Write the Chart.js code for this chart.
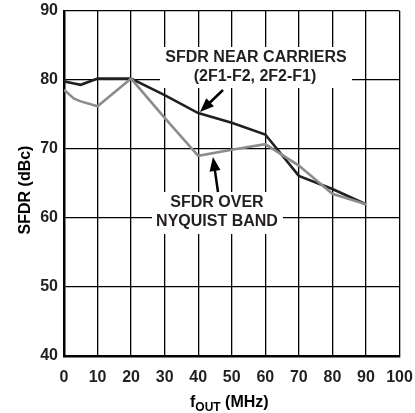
<!DOCTYPE html>
<html>
<head>
<meta charset="utf-8">
<script src="https://cdn.jsdelivr.net/npm/chart.js@4"></script>
<style>
  html, body { margin: 0; padding: 0; background: #fff; }
  #c { display: block; }
</style>
</head>
<body>
<canvas id="c" width="415" height="413"></canvas>
<script>
// values
const fOut = [0, 3, 5, 10, 20, 30, 40, 50, 60, 70, 80, 90];
const nearCarriers = [79.8, 79.5, 79.3, 80.2, 80.2, 77.8, 75.2, 73.8, 72.1, 66.1, 64.2, 62];
const overNyquist = [78.6, 77.3, 76.9, 76.2, 80.2, 74.5, 69.0, 69.9, 70.7, 67.6, 63.5, 62];
const xTicks = [0, 10, 20, 30, 40, 50, 60, 70, 80, 90, 100];
const yTicks = [40, 50, 60, 70, 80, 90];

const FONT = '"Liberation Sans", Arial, sans-serif';

function pts(xs, ys) {
    return xs.map((x, i) => ({x: x, y: ys[i]}));
}

function arrow(ctx, x1, y1, x2, y2) {
    const a = Math.atan2(y2 - y1, x2 - x1);
    const hl = 14, hw = 5.5;
    ctx.beginPath();
    ctx.moveTo(x1, y1);
    ctx.lineTo(x2 - Math.cos(a) * hl * 0.8, y2 - Math.sin(a) * hl * 0.8);
    ctx.lineWidth = 2.5;
    ctx.strokeStyle = '#000';
    ctx.stroke();
    ctx.beginPath();
    ctx.moveTo(x2, y2);
    ctx.lineTo(x2 - Math.cos(a) * hl - Math.sin(a) * hw, y2 - Math.sin(a) * hl + Math.cos(a) * hw);
    ctx.lineTo(x2 - Math.cos(a) * hl + Math.sin(a) * hw, y2 - Math.sin(a) * hl - Math.cos(a) * hw);
    ctx.closePath();
    ctx.fillStyle = '#000';
    ctx.fill();
}

const labelsPlugin = {
    id: 'labels',
    beforeDatasetsDraw(chart) {
        const ctx = chart.ctx;
        ctx.save();
        ctx.fillStyle = '#fff';
        ctx.fillRect(160, 47, 192, 41);
        ctx.fillRect(152, 192, 131, 42);
        ctx.restore();
    },
    afterDraw(chart) {
        const ctx = chart.ctx;
        ctx.save();
        ctx.fillStyle = '#231f20';
        ctx.font = 'bold 16px ' + FONT;
        ctx.textAlign = 'center';
        ctx.textBaseline = 'middle';
        ctx.fillText('SFDR NEAR CARRIERS', 256, 58);
        ctx.fillText('(2F1-F2, 2F2-F1)', 255, 77);
        ctx.fillText('SFDR OVER', 217, 203);
        ctx.fillText('NYQUIST BAND', 217, 222);
        arrow(ctx, 223, 90, 200, 112);
        arrow(ctx, 218, 192, 213, 157);

        // x axis title with subscript
        ctx.textAlign = 'left';
        ctx.textBaseline = 'alphabetic';
        ctx.font = 'bold 16px ' + FONT;
        const wf = ctx.measureText('f').width;
        ctx.font = 'bold 12px ' + FONT;
        const ws = ctx.measureText('OUT').width;
        ctx.font = 'bold 16px ' + FONT;
        let x0 = 190;
        ctx.fillText('f', x0, 407);
        ctx.font = 'bold 12px ' + FONT;
        ctx.fillText('OUT', x0 + wf, 411);
        ctx.font = 'bold 16px ' + FONT;
        ctx.fillText(' (MHz)', x0 + wf + ws, 407);

        // y axis title
        ctx.translate(26, 190);
        ctx.rotate(-Math.PI / 2);
        ctx.textAlign = 'center';
        ctx.textBaseline = 'middle';
        ctx.fillText('SFDR (dBc)', 0, 0);
        ctx.restore();
    }
};

const chart = new Chart(document.getElementById('c'), {
    type: 'line',
    data: {
        datasets: [
            {
                label: 'SFDR over Nyquist band',
                data: pts(fOut, overNyquist),
                borderColor: '#8c8c8c',
                borderWidth: 2.6,
                pointRadius: 0,
                tension: 0
            },
            {
                label: 'SFDR near carriers',
                data: pts(fOut, nearCarriers),
                borderColor: '#231f20',
                borderWidth: 2.6,
                pointRadius: 0,
                tension: 0
            }
        ]
    },
    options: {
        responsive: false,
        animation: false,
        devicePixelRatio: 1,
        layout: { padding: { top: 11, right: 15.5, left: 0, bottom: 0 } },
        plugins: { legend: { display: false }, tooltip: { enabled: false } },
        scales: {
            x: {
                type: 'linear',
                min: 0, max: 100,
                afterBuildTicks: (s) => { s.ticks = xTicks.map(v => ({value: v})); },
                afterFit: (s) => { s.height = 57; s.paddingLeft = 0; s.paddingRight = 0; },
                grid: { color: '#000', lineWidth: 1.3, drawTicks: false },
                border: { color: '#000', width: 2.5 },
                ticks: { color: '#231f20', padding: 12, maxRotation: 0, font: { family: FONT, size: 16, weight: 'bold' } }
            },
            y: {
                min: 40, max: 90,
                afterBuildTicks: (s) => { s.ticks = yTicks.map(v => ({value: v})); },
                afterFit: (s) => { s.width = 64; s.paddingTop = 0; s.paddingBottom = 0; },
                grid: { color: '#000', lineWidth: 1.3, drawTicks: false },
                border: { color: '#000', width: 2.5 },
                ticks: { color: '#231f20', padding: 6, font: { family: FONT, size: 16, weight: 'bold' } }
            }
        }
    },
    plugins: [labelsPlugin]
});
</script>
</body>
</html>
